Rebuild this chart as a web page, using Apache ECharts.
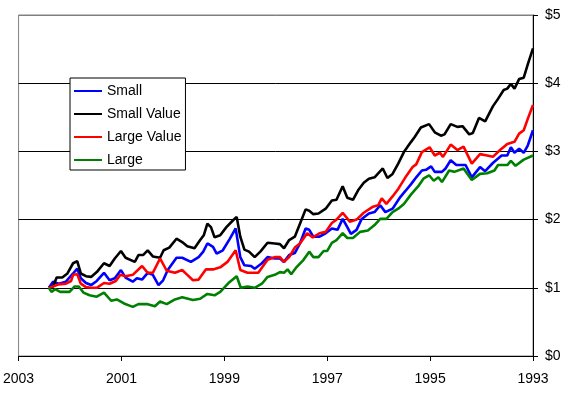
<!DOCTYPE html>
<html>
<head>
<meta charset="utf-8">
<script src="https://cdn.jsdelivr.net/npm/echarts@6/dist/echarts.min.js"></script>
<style>
html,body{margin:0;padding:0;background:#fff;}
#chart{width:571px;height:395px;}
</style>
</head>
<body>
<div id="chart"></div>
<script>
// x = year (axis runs 2003 -> 1993), y = growth of $1
const seriesNames = ['Small', 'Small Value', 'Large Value', 'Large'];
const xTicks = [1993, 1995, 1997, 1999, 2001, 2003];
const yTicks = ['$0', '$1', '$2', '$3', '$4', '$5'];

const small = [[2002.41,1.00],[2002.33,1.09],[2002.22,1.06],[2002.08,1.09],[2001.94,1.21],[2001.86,1.28],[2001.79,1.14],[2001.69,1.07],[2001.59,1.04],[2001.48,1.10],[2001.34,1.22],[2001.23,1.11],[2001.13,1.14],[2001.01,1.26],[2000.92,1.15],[2000.78,1.09],[2000.70,1.14],[2000.60,1.12],[2000.49,1.22],[2000.39,1.19],[2000.28,1.04],[2000.19,1.11],[2000.10,1.26],[1999.93,1.44],[1999.82,1.44],[1999.65,1.38],[1999.50,1.45],[1999.41,1.53],[1999.33,1.65],[1999.22,1.60],[1999.15,1.50],[1999.03,1.55],[1998.90,1.71],[1998.78,1.87],[1998.69,1.45],[1998.61,1.33],[1998.48,1.32],[1998.41,1.28],[1998.27,1.36],[1998.16,1.45],[1998.02,1.43],[1997.92,1.43],[1997.84,1.38],[1997.74,1.48],[1997.63,1.51],[1997.53,1.65],[1997.42,1.87],[1997.35,1.85],[1997.27,1.75],[1997.15,1.75],[1997.03,1.80],[1996.91,1.87],[1996.80,1.85],[1996.70,2.01],[1996.61,1.89],[1996.54,1.79],[1996.43,1.85],[1996.33,2.01],[1996.19,2.09],[1996.08,2.11],[1995.97,2.21],[1995.87,2.11],[1995.73,2.16],[1995.58,2.33],[1995.48,2.42],[1995.37,2.52],[1995.27,2.62],[1995.16,2.72],[1995.08,2.73],[1994.98,2.78],[1994.91,2.70],[1994.77,2.70],[1994.70,2.75],[1994.60,2.87],[1994.49,2.80],[1994.31,2.80],[1994.19,2.62],[1994.03,2.77],[1993.93,2.71],[1993.78,2.83],[1993.61,2.94],[1993.50,2.94],[1993.43,3.06],[1993.36,2.98],[1993.27,3.04],[1993.18,2.98],[1993.10,3.09],[1993.00,3.31]];

const smallValue = [[2002.41,1.00],[2002.33,1.02],[2002.26,1.15],[2002.15,1.15],[2002.05,1.21],[2001.94,1.36],[2001.86,1.39],[2001.79,1.21],[2001.69,1.17],[2001.59,1.16],[2001.48,1.23],[2001.34,1.36],[2001.23,1.32],[2001.13,1.43],[2001.01,1.54],[2000.92,1.44],[2000.74,1.38],[2000.67,1.48],[2000.58,1.48],[2000.49,1.55],[2000.39,1.46],[2000.25,1.44],[2000.18,1.55],[2000.07,1.59],[1999.93,1.72],[1999.82,1.67],[1999.72,1.61],[1999.58,1.58],[1999.47,1.70],[1999.40,1.77],[1999.33,1.94],[1999.26,1.89],[1999.19,1.74],[1999.08,1.77],[1998.96,1.89],[1998.83,1.99],[1998.76,2.04],[1998.69,1.75],[1998.61,1.56],[1998.52,1.53],[1998.41,1.45],[1998.30,1.53],[1998.16,1.66],[1998.02,1.65],[1997.92,1.64],[1997.84,1.58],[1997.74,1.70],[1997.63,1.75],[1997.53,1.94],[1997.42,2.15],[1997.35,2.13],[1997.27,2.08],[1997.17,2.09],[1997.03,2.16],[1996.91,2.28],[1996.82,2.29],[1996.70,2.49],[1996.61,2.32],[1996.50,2.29],[1996.40,2.43],[1996.29,2.54],[1996.19,2.60],[1996.08,2.62],[1995.92,2.75],[1995.83,2.61],[1995.73,2.67],[1995.62,2.82],[1995.51,2.99],[1995.37,3.14],[1995.30,3.21],[1995.18,3.35],[1995.02,3.40],[1994.91,3.28],[1994.79,3.23],[1994.72,3.25],[1994.60,3.40],[1994.47,3.36],[1994.37,3.37],[1994.24,3.25],[1994.17,3.27],[1994.05,3.49],[1993.93,3.44],[1993.78,3.66],[1993.68,3.77],[1993.57,3.90],[1993.50,3.92],[1993.43,3.99],[1993.36,3.92],[1993.27,4.06],[1993.18,4.08],[1993.10,4.28],[1993.00,4.51]];

const largeValue = [[2002.41,1.00],[2002.33,1.02],[2002.22,1.05],[2002.08,1.06],[2001.98,1.10],[2001.94,1.19],[2001.86,1.20],[2001.79,1.06],[2001.69,1.01],[2001.59,1.00],[2001.48,1.00],[2001.34,1.07],[2001.23,1.06],[2001.11,1.10],[2001.02,1.19],[2000.92,1.17],[2000.78,1.19],[2000.60,1.32],[2000.49,1.22],[2000.39,1.22],[2000.25,1.43],[2000.12,1.25],[1999.96,1.22],[1999.82,1.26],[1999.72,1.19],[1999.61,1.11],[1999.50,1.12],[1999.36,1.27],[1999.22,1.27],[1999.08,1.30],[1998.94,1.38],[1998.78,1.55],[1998.69,1.26],[1998.55,1.22],[1998.34,1.22],[1998.16,1.41],[1998.02,1.45],[1997.92,1.45],[1997.84,1.38],[1997.74,1.45],[1997.63,1.59],[1997.53,1.65],[1997.39,1.80],[1997.28,1.74],[1997.15,1.80],[1997.03,1.82],[1996.91,1.95],[1996.82,2.00],[1996.70,2.10],[1996.56,1.97],[1996.43,2.00],[1996.29,2.10],[1996.11,2.19],[1996.01,2.21],[1995.94,2.31],[1995.85,2.23],[1995.73,2.34],[1995.62,2.45],[1995.48,2.62],[1995.34,2.77],[1995.27,2.81],[1995.16,2.99],[1995.01,3.06],[1994.91,2.94],[1994.81,2.98],[1994.75,2.92],[1994.60,3.10],[1994.47,3.02],[1994.35,3.07],[1994.19,2.82],[1994.03,2.96],[1993.89,2.94],[1993.78,2.92],[1993.64,3.02],[1993.50,3.11],[1993.36,3.14],[1993.27,3.26],[1993.18,3.31],[1993.10,3.48],[1993.00,3.68]];

const large = [[2002.41,1.00],[2002.36,0.94],[2002.29,0.98],[2002.19,0.94],[2002.01,0.94],[2001.91,1.02],[2001.83,1.02],[2001.74,0.93],[2001.62,0.89],[2001.48,0.87],[2001.34,0.93],[2001.20,0.81],[2001.09,0.83],[2000.95,0.77],[2000.78,0.72],[2000.67,0.76],[2000.49,0.76],[2000.35,0.73],[2000.25,0.80],[2000.12,0.76],[1999.96,0.83],[1999.82,0.86],[1999.61,0.82],[1999.47,0.84],[1999.33,0.91],[1999.19,0.89],[1999.08,0.94],[1998.92,1.07],[1998.76,1.17],[1998.68,1.00],[1998.55,1.02],[1998.41,1.00],[1998.27,1.06],[1998.16,1.16],[1998.02,1.19],[1997.92,1.23],[1997.84,1.22],[1997.77,1.27],[1997.70,1.20],[1997.60,1.30],[1997.46,1.41],[1997.35,1.53],[1997.27,1.45],[1997.17,1.45],[1997.07,1.54],[1997.00,1.54],[1996.91,1.66],[1996.82,1.70],[1996.70,1.80],[1996.61,1.73],[1996.50,1.73],[1996.36,1.82],[1996.21,1.84],[1996.08,1.92],[1995.97,2.01],[1995.85,2.01],[1995.73,2.11],[1995.62,2.16],[1995.51,2.23],[1995.37,2.37],[1995.23,2.49],[1995.13,2.60],[1995.02,2.65],[1994.93,2.57],[1994.84,2.62],[1994.77,2.55],[1994.63,2.72],[1994.53,2.70],[1994.35,2.75],[1994.19,2.58],[1994.03,2.67],[1993.89,2.68],[1993.75,2.72],[1993.68,2.80],[1993.50,2.80],[1993.43,2.86],[1993.34,2.79],[1993.18,2.88],[1993.00,2.94]];

const seriesData = [small, smallValue, largeValue, large];
const colors = ['#0000FF', '#000000', '#FF0000', '#008000'];
const FONT = '"Liberation Sans", Arial, sans-serif';

const chart = echarts.init(document.getElementById('chart'), null, {renderer: 'canvas'});
chart.setOption({
  animation: false,
  backgroundColor: '#ffffff',
  textStyle: {fontFamily: FONT},
  grid: {left: 17, right: 38, top: 15, bottom: 39, show: true, borderColor: '#808080', borderWidth: 1, backgroundColor: '#ffffff'},
  legend: {
    orient: 'vertical', left: 70, top: 78,
    data: seriesNames,
    icon: 'rect', itemWidth: 28, itemHeight: 2, itemGap: 9,
    backgroundColor: '#ffffff', borderColor: '#000000', borderWidth: 1, borderRadius: 0,
    padding: [6, 4, 3, 4],
    textStyle: {fontFamily: FONT, fontSize: 14, color: '#000'}
  },
  xAxis: {
    type: 'value', min: xTicks[0], max: xTicks[xTicks.length - 1], interval: 2, inverse: true,
    axisLine: {show: true, lineStyle: {color: '#000', width: 1}},
    axisTick: {show: true, inside: false, length: 5, lineStyle: {color: '#000'}},
    splitLine: {show: false},
    axisLabel: {fontFamily: FONT, fontSize: 14, color: '#000', margin: 16, showMinLabel: true, showMaxLabel: true,
      formatter: v => String(v)}
  },
  yAxis: {
    type: 'value', position: 'right', min: 0, max: 5, interval: 1,
    axisLine: {show: true, lineStyle: {color: '#000', width: 1}},
    axisTick: {show: true, inside: false, length: 5, lineStyle: {color: '#000'}},
    splitLine: {show: true, lineStyle: {color: ['#000', '#000', '#000', '#000', '#000', '#808080'], width: 1}},
    axisLabel: {fontFamily: FONT, fontSize: 14, color: '#000', margin: 12, showMinLabel: true, showMaxLabel: true,
      formatter: v => yTicks[Math.round(v)]}
  },
  series: seriesNames.map((name, i) => ({
    name: name, type: 'line', data: seriesData[i],
    symbol: 'none', showSymbol: false,
    itemStyle: {color: colors[i]},
    lineStyle: {color: colors[i], width: 2.6},
    z: 2 + i
  }))
});
</script>
</body>
</html>
